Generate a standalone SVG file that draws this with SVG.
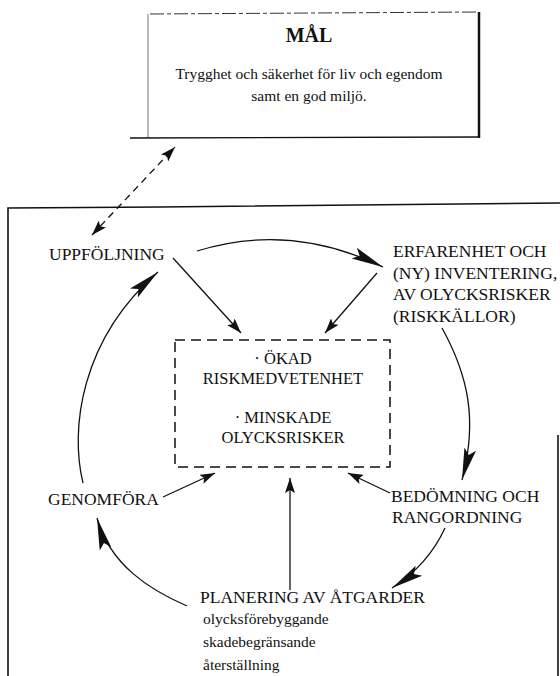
<svg xmlns="http://www.w3.org/2000/svg" width="560" height="676" viewBox="0 0 560 676">
<style>
  text { font-family: "Liberation Serif", "Times New Roman", serif; fill: #111; }
  .lbl { font-size: 17.5px; }
  .ctr { font-size: 16.5px; text-anchor: middle; }
  .sub { font-size: 15.5px; }
  .goal { font-size: 15.5px; text-anchor: middle; }
  .ttl { font-size: 20px; font-weight: bold; text-anchor: middle; }
  .ln { fill: none; stroke: #111; stroke-width: 1.3; }
  .frame { fill: none; stroke: #111; stroke-width: 1.6; }
</style>
<defs>
  <marker id="big" markerUnits="userSpaceOnUse" markerWidth="34" markerHeight="14" refX="32" refY="7" orient="auto">
    <path d="M0,1 L32,7 L0,13 L6,7 z" fill="#111"/>
  </marker>
  <marker id="sm" markerUnits="userSpaceOnUse" markerWidth="16" markerHeight="10" refX="15" refY="5" orient="auto-start-reverse">
    <path d="M0,0 L15,5 L0,10 L3,5 z" fill="#111"/>
  </marker>
</defs>

<g id="frame">
  <path class="frame" d="M8,676 L8,208 L160,207 L560,203"/>
  <path class="frame" d="M558,435 L558,676"/>
</g>

<g id="goal">
  <path d="M150,14 L479,12" fill="none" stroke="#333" stroke-width="1" stroke-dasharray="14,3,4,3"/>
  <path d="M148,14 L148,138" fill="none" stroke="#666" stroke-width="0.9"/>
  <path d="M479,12 L479,138" fill="none" stroke="#111" stroke-width="2.5"/>
  <path d="M130,138 L479,137" fill="none" stroke="#111" stroke-width="1.3"/>
  <text class="ttl" x="309" y="42">MÅL</text>
  <text class="goal" x="309" y="79">Trygghet och säkerhet för liv och egendom</text>
  <text class="goal" x="309" y="101">samt en god miljö.</text>
</g>

<g id="center">
  <rect x="175" y="340" width="215" height="127" fill="none" stroke="#111" stroke-width="1.5" stroke-dasharray="10,6"/>
  <text class="ctr" x="283" y="364">· ÖKAD</text>
  <text class="ctr" x="283" y="384">RISKMEDVETENHET</text>
  <text class="ctr" x="283" y="423">· MINSKADE</text>
  <text class="ctr" x="283" y="443">OLYCKSRISKER</text>
</g>

<g id="uppfoljning">
  <text class="lbl" x="49" y="260">UPPFÖLJNING</text>
</g>

<g id="erfarenhet">
  <text class="lbl" x="393" y="257">ERFARENHET OCH</text>
  <text class="lbl" x="393" y="279">(NY) INVENTERING,</text>
  <text class="lbl" x="393" y="300">AV OLYCKSRISKER</text>
  <text class="lbl" x="393" y="322">(RISKKÄLLOR)</text>
</g>

<g id="bedomning">
  <text class="lbl" x="391" y="502">BEDÖMNING OCH</text>
  <text class="lbl" x="392" y="523">RANGORDNING</text>
</g>

<g id="genomfora">
  <text class="lbl" x="48" y="505">GENOMFÖRA</text>
</g>

<g id="planering">
  <text class="lbl" x="200" y="603">PLANERING AV ÅTGARDER</text>
  <text class="sub" x="203" y="624">olycksförebyggande</text>
  <text class="sub" x="203" y="647">skadebegränsande</text>
  <text class="sub" x="203" y="670">återställning</text>
</g>

<g id="connectors">
  <path class="ln" d="M92,235 L175,147" stroke-dasharray="7,5" marker-start="url(#sm)" marker-end="url(#sm)"/>
  <path class="ln" d="M197,251 Q290,222 383,267" marker-end="url(#big)"/>
  <path class="ln" d="M442,328 C468,375 478,420 462,480" marker-end="url(#big)"/>
  <path class="ln" d="M445,528 Q428,565 392,588" marker-end="url(#big)"/>
  <path class="ln" d="M187,606 C150,590 110,565 97,518" marker-end="url(#big)"/>
  <path class="ln" d="M83,483 C70,430 80,340 158,272" marker-end="url(#big)"/>
  <path class="ln" d="M173,258 L241,333" marker-end="url(#sm)"/>
  <path class="ln" d="M377,273 L325,333" marker-end="url(#sm)"/>
  <path class="ln" d="M163,497 L215,473" marker-end="url(#sm)"/>
  <path class="ln" d="M390,493 L348,473" marker-end="url(#sm)"/>
  <path class="ln" d="M290,590 L290,478" marker-end="url(#sm)"/>
</g>
</svg>
